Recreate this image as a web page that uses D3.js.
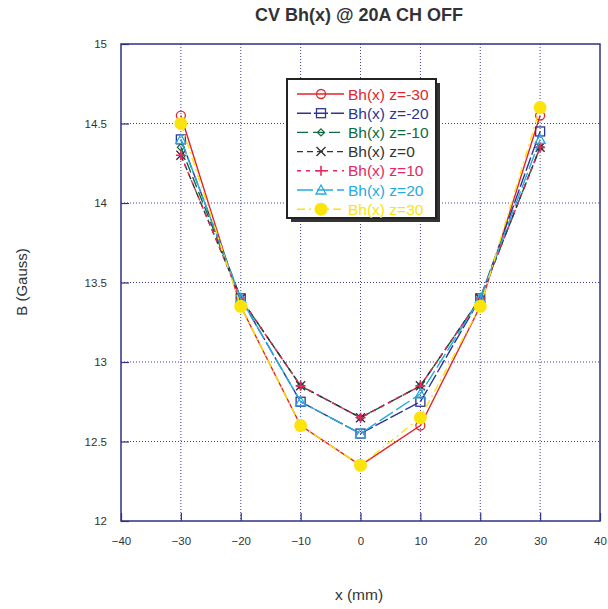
<!DOCTYPE html>
<html>
<head>
<meta charset="utf-8">
<script src="https://cdn.jsdelivr.net/npm/d3@7"></script>
<style>
  html, body { margin: 0; padding: 0; background: #fff; }
  svg { display: block; font-family: "Liberation Sans", Arial, sans-serif; }
</style>
</head>
<body>
<svg id="chart" width="608" height="609"></svg>
<script>
// Field scan positions (mm)
const xPositions = [-30, -20, -10, 0, 10, 20, 30];

// Bh(x) readings in Gauss, one series per z height
const seriesNames = ["Bh(x) z=-30", "Bh(x) z=-20", "Bh(x) z=-10", "Bh(x) z=0", "Bh(x) z=10", "Bh(x) z=20", "Bh(x) z=30"];
const bZm30 = [14.55, 13.35, 12.6, 12.35, 12.6, 13.35, 14.55];
const bZm20 = [14.4, 13.4, 12.75, 12.55, 12.75, 13.4, 14.45];
const bZm10 = [14.35, 13.4, 12.85, 12.65, 12.85, 13.4, 14.35];
const bZ0   = [14.3, 13.4, 12.85, 12.65, 12.85, 13.4, 14.35];
const bZp10 = [14.3, 13.4, 12.85, 12.65, 12.85, 13.4, 14.35];
const bZp20 = [14.4, 13.4, 12.75, 12.55, 12.8, 13.4, 14.4];
const bZp30 = [14.5, 13.35, 12.6, 12.35, 12.65, 13.35, 14.6];

const xTicks = [-40, -30, -20, -10, 0, 10, 20, 30, 40];
const yTicks = [12, 12.5, 13, 13.5, 14, 14.5, 15];

(function () {
const seriesValues = [bZm30, bZm20, bZm10, bZ0, bZp10, bZp20, bZp30];
const styles = [
  { color: "#e2252b", dash: null,        marker: "circleOpen" },
  { color: "#2e3592", dash: "14,3",      marker: "square" },
  { color: "#0e6b3b", dash: "11,5",      marker: "diamond" },
  { color: "#333333", dash: "6,4",       marker: "cross" },
  { color: "#e8265e", dash: "4,5",       marker: "plus" },
  { color: "#25aae2", dash: "16,4",      marker: "triangle" },
  { color: "#fbe30c", dash: "8,4,2,4",   marker: "dot" }
];

const svg = d3.select("#chart");
const pLeft = 121, pRight = 600, pTop = 44, pBottom = 521;
const x = d3.scaleLinear().domain([-40, 40]).range([pLeft, pRight]);
const y = d3.scaleLinear().domain([12, 15]).range([pBottom, pTop]);
const frameColor = "#2e3186";

// grid
const grid = svg.append("g");
grid.selectAll("line.gx").data(xTicks.slice(1, -1)).join("line")
  .attr("x1", d => x(d)).attr("x2", d => x(d)).attr("y1", pTop).attr("y2", pBottom)
  .attr("stroke", "#3d429a").attr("stroke-width", 1).attr("stroke-dasharray", "1,2");
grid.selectAll("line.gy").data(yTicks.slice(1, -1)).join("line")
  .attr("y1", d => y(d)).attr("y2", d => y(d)).attr("x1", pLeft).attr("x2", pRight)
  .attr("stroke", "#3d429a").attr("stroke-width", 1).attr("stroke-dasharray", "1,2");

// axes with inward ticks
const xAxis = d3.axisBottom(x).tickValues(xTicks).tickSize(-8).tickPadding(16).tickFormat(d3.format("d"));
const yAxis = d3.axisLeft(y).tickValues(yTicks).tickSize(-8).tickPadding(14).tickFormat(d => String(d));
const gx = svg.append("g").attr("transform", `translate(0,${pBottom})`).call(xAxis);
const gy = svg.append("g").attr("transform", `translate(${pLeft},0)`).call(yAxis);
[gx, gy].forEach(g => {
  g.select(".domain").remove();
  g.selectAll(".tick line").attr("stroke", frameColor).attr("stroke-width", 1.2);
  g.selectAll(".tick text").attr("fill", "#333").style("font-size", "11.5px")
    .style("font-family", "Liberation Sans, Arial, sans-serif");
});

// plot frame
svg.append("rect").attr("x", pLeft).attr("y", pTop).attr("width", pRight - pLeft).attr("height", pBottom - pTop)
  .attr("fill", "none").attr("stroke", frameColor).attr("stroke-width", 1.5);

// markers
function drawMarker(g, type, cx, cy, color) {
  switch (type) {
    case "circleOpen":
      g.append("circle").attr("cx", cx).attr("cy", cy).attr("r", 4.5)
        .attr("fill", "none").attr("stroke", color).attr("stroke-width", 1.3); break;
    case "square":
      g.append("rect").attr("x", cx - 4.5).attr("y", cy - 4.5).attr("width", 9).attr("height", 9)
        .attr("fill", "none").attr("stroke", color).attr("stroke-width", 1.3); break;
    case "diamond":
      g.append("path").attr("d", `M${cx},${cy - 3.5}L${cx + 3.5},${cy}L${cx},${cy + 3.5}L${cx - 3.5},${cy}Z`)
        .attr("fill", "none").attr("stroke", color).attr("stroke-width", 1.3); break;
    case "cross":
      g.append("path").attr("d", `M${cx - 4.5},${cy - 4.5}L${cx + 4.5},${cy + 4.5}M${cx - 4.5},${cy + 4.5}L${cx + 4.5},${cy - 4.5}`)
        .attr("stroke", color).attr("stroke-width", 1.4); break;
    case "plus":
      g.append("path").attr("d", `M${cx - 5},${cy}L${cx + 5},${cy}M${cx},${cy - 5}L${cx},${cy + 5}`)
        .attr("stroke", color).attr("stroke-width", 1.6); break;
    case "triangle":
      g.append("path").attr("d", `M${cx},${cy - 5}L${cx + 5},${cy + 4}L${cx - 5},${cy + 4}Z`)
        .attr("fill", "none").attr("stroke", color).attr("stroke-width", 1.3); break;
    case "dot":
      g.append("circle").attr("cx", cx).attr("cy", cy).attr("r", 6.5).attr("fill", color); break;
  }
}

// series lines and markers
const line = d3.line().x(d => x(d[0])).y(d => y(d[1]));
seriesValues.forEach((vals, i) => {
  const st = styles[i];
  const pts = xPositions.map((xv, j) => [xv, vals[j]]);
  const g = svg.append("g");
  g.append("path").datum(pts).attr("d", line).attr("fill", "none")
    .attr("stroke", st.color).attr("stroke-width", 1.4)
    .attr("stroke-dasharray", st.dash);
  pts.forEach(p => drawMarker(g, st.marker, x(p[0]), y(p[1]), st.color));
});

// legend
const lg = svg.append("g");
const lx = 287, ly = 79, lw = 149, lh = 139;
lg.append("rect").attr("x", lx + 4).attr("y", ly + 4).attr("width", lw).attr("height", lh).attr("fill", "#333");
lg.append("rect").attr("x", lx).attr("y", ly).attr("width", lw).attr("height", lh)
  .attr("fill", "#fff").attr("stroke", "#222").attr("stroke-width", 2);
seriesNames.forEach((name, i) => {
  const st = styles[i];
  const cy = 94 + i * 19.2;
  lg.append("line").attr("x1", 297).attr("x2", 344).attr("y1", cy).attr("y2", cy)
    .attr("stroke", st.color).attr("stroke-width", 1.4).attr("stroke-dasharray", st.dash);
  drawMarker(lg, st.marker, 321, cy, st.color);
  lg.append("text").attr("x", 348).attr("y", cy + 5.5).attr("fill", st.color)
    .style("font-size", "15.5px").text(name);
});

// titles
svg.append("text").attr("x", 359).attr("y", 21).attr("text-anchor", "middle")
  .attr("fill", "#333").style("font-size", "18px").style("font-weight", "bold")
  .text("CV Bh(x) @ 20A CH OFF");
svg.append("text").attr("x", 359).attr("y", 600).attr("text-anchor", "middle")
  .attr("fill", "#333").style("font-size", "15.5px").text("x (mm)");
svg.append("text").attr("transform", "translate(27,282) rotate(-90)").attr("text-anchor", "middle")
  .attr("fill", "#333").style("font-size", "15px").text("B (Gauss)");
})();
</script>
</body>
</html>
